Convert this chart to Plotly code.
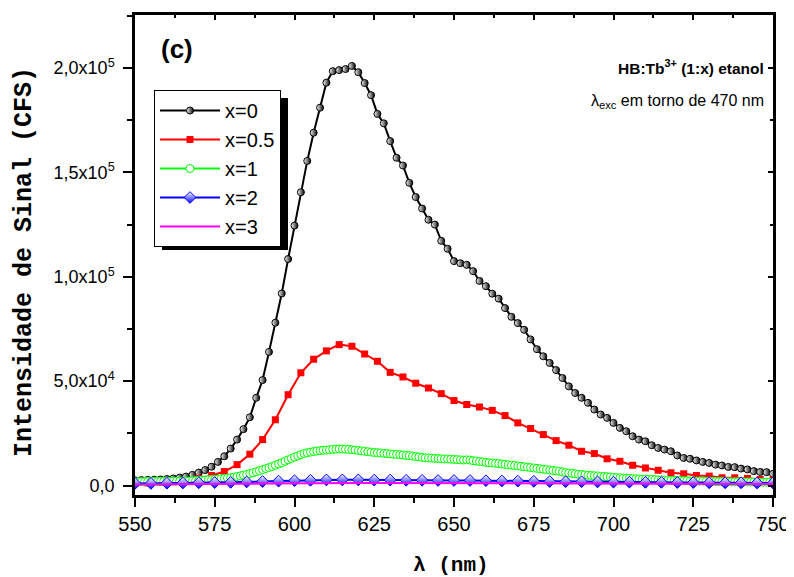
import plotly.graph_objects as go

# ---------------- data ----------------
x_black = list(range(550, 751, 2))
y_black = [2500, 2600, 2700, 2800, 2900, 3100, 3400, 3800, 4300, 5100,
           6200, 7400, 9000, 11300, 14000, 17700, 22000, 27000, 32700, 42000,
           50500, 64000, 78000, 92000, 108500, 124500, 140500, 155500, 169000, 181000,
           193000, 198500, 199000, 199500, 201000, 198000, 192800, 187000, 178000, 173500,
           165000, 157000, 153300, 145000, 138200, 132700, 127300, 125000, 117200, 113400,
           107500, 106500, 105700, 102700, 98000, 95500, 91900, 89500, 85000, 80800,
           77800, 74600, 70000, 65300, 61900, 58700, 55300, 51500, 47500, 44300,
           42000, 39600, 36400, 34000, 32400, 30000, 27600, 26000, 23600, 22000,
           21200, 19300, 18000, 17200, 16400, 14400, 13200, 12800, 12000, 11300,
           10800, 10000, 9600, 8900, 8800, 8100, 7700, 6900, 6500, 6400,
           5600]

x_red = list(range(550, 751, 4))
y_red = [1000, 1200, 1500, 1800, 2300, 3300, 4800, 6700, 10000, 15000,
         22000, 31500, 43500, 54000, 60500, 64500, 67500, 66700, 63000, 59500,
         54200, 52000, 49000, 46700, 44000, 40700, 38800, 37600, 36000, 33500,
         30000, 27300, 24400, 21500, 19300, 16400, 15300, 12800, 11600, 9700,
         8400, 7300, 6100, 5600, 4800, 4500, 3700, 3700, 3400, 2900,
         2600]

x_green = list(range(550, 751, 1))
y_green = [1800, 1800, 1850, 1850, 1900, 1900, 1950, 1950, 2000, 2000, 2000, 2050, 2050, 2100, 2100, 2100,
           2150, 2200, 2250, 2350, 2450, 2550, 2650, 2750, 2850, 2950,
           3100, 3250, 3400, 3600, 3800, 4050, 4300, 4600, 4950, 5300,
           5700, 6100, 6600, 7100, 7600, 8100, 8600, 9100, 9700, 10300,
           10900, 11600, 12300, 13000, 13600, 14200, 14800, 15300, 15700, 16000,
           16300, 16500, 16700, 16900, 17000, 17100, 17300, 17400, 17500, 17500,
           17400, 17300, 17100, 17000, 16800, 16600, 16400, 16200, 16000, 15800,
           15700, 15600, 15400, 15300, 15100, 15000, 14900, 14800, 14600, 14400,
           14300, 14100, 13900, 13700, 13500, 13300, 13200, 13100, 13000, 12900,
           12800, 12700, 12700, 12600, 12500, 12400, 12300, 12200, 12300, 12200,
           11900, 11700, 11500, 11300, 11100, 10900, 10800, 10600, 10500, 10300,
           10100, 9900, 9800, 9600, 9400, 9200, 9000, 8800, 8600, 8400,
           8200, 8000, 7800, 7600, 7400, 7200, 7000, 6800, 6500, 6200,
           6000, 5800, 5600, 5400, 5300, 5100, 4900, 4800, 4700, 4600,
           4400, 4300, 4200, 4100, 3900, 3800, 3700, 3600, 3500, 3400,
           3300, 3200, 3100, 3000, 3000, 2900, 2900, 2800, 2700, 2700,
           2600, 2600, 2500, 2500, 2400, 2400, 2300, 2300, 2200, 2200,
           2100, 2100, 2100, 2000, 2000, 2000, 1900, 1900, 1900, 1900,
           1800, 1800, 1800, 1800, 1800, 1700, 1700, 1700, 1700, 1700,
           1600, 1600, 1600, 1600, 1600]

x_blue = list(range(550, 751, 5))
y_blue = [1000, 1000, 1100, 1200, 1300, 1400, 1500, 1700, 1900, 2100,
          2300, 2500, 2700, 2700, 2700, 2600, 2600, 2500, 2500, 2400,
          2400, 2400, 2300, 2200, 2100, 2000, 1900, 1800, 1800, 1700,
          1600, 1600, 1500, 1500, 1400, 1400, 1300, 1300, 1300, 1200,
          1200]

x_magenta = list(range(550, 751, 5))
y_magenta = [500, 500, 550, 600, 650, 700, 750, 800, 900, 1000,
             1100, 1200, 1200, 1200, 1200, 1200, 1200, 1150, 1150, 1100,
             1100, 1100, 1050, 1050, 1000, 1000, 1000, 950, 950, 900,
             900, 900, 850, 850, 800, 800, 800, 750, 750, 700,
             700]

series_names = ["x=0", "x=0.5", "x=1", "x=2", "x=3"]

x_tickvals = [550, 575, 600, 625, 650, 675, 700, 725, 750]
y_tickvals = [0, 50000, 100000, 150000, 200000]
y_ticktext = ["0,0", "5,0x10<sup>4</sup>", "1,0x10<sup>5</sup>",
              "1,5x10<sup>5</sup>", "2,0x10<sup>5</sup>"]

# ---------------- figure ----------------
FONT = "Liberation Sans, Arial, sans-serif"
MONO = "Liberation Mono, Courier New, monospace"

W, H = 794, 577
OFF = 8  # default page margin of the HTML body
# plot-area edges as seen on screen
L, R, T, B = 135, 773, 15, 495
PW, PH = R - L, B - T


def px(xp):
    return (xp - L) / PW


def py(yp):
    return (B - yp) / PH


fig = go.Figure()

fig.add_trace(go.Scatter(
    x=x_black, y=y_black, name=series_names[0], mode="lines+markers",
    legendgroup="g0",
    line=dict(color="black", width=2),
    marker=dict(symbol="circle", size=7, color="white",
                gradient=dict(type="horizontal", color="black"),
                line=dict(color="black", width=1))))

fig.add_trace(go.Scatter(
    x=x_red, y=y_red, name=series_names[1], mode="lines+markers",
    legendgroup="g1",
    line=dict(color="#ff0000", width=2),
    marker=dict(symbol="square", size=7, color="#ff0000",
                line=dict(color="#ff0000", width=0))))

fig.add_trace(go.Scatter(
    x=x_green, y=y_green, name=series_names[2], mode="lines+markers",
    legendgroup="g2",
    line=dict(color="#00ff00", width=2),
    marker=dict(symbol="circle", size=8, color="white",
                line=dict(color="#00ff00", width=1))))

fig.add_trace(go.Scatter(
    x=x_blue, y=y_blue, name=series_names[3], mode="lines+markers",
    legendgroup="g3",
    line=dict(color="#0000ff", width=2),
    marker=dict(symbol="diamond", size=9, color="white",
                gradient=dict(type="vertical", color="#0000ff"),
                line=dict(color="#0000ff", width=1))))

fig.add_trace(go.Scatter(
    x=x_magenta, y=y_magenta, name=series_names[4], mode="lines",
    legendgroup="g4",
    line=dict(color="#ff00ff", width=2)))

# invisible trace on mirrored axes (to draw inward ticks on top/right)
fig.add_trace(go.Scatter(x=[550], y=[0], xaxis="x2", yaxis="y2",
                         mode="markers", marker=dict(opacity=0),
                         showlegend=False, hoverinfo="skip"))

XR = [550, 750]
YR = [-4550, 225400]

fig.update_layout(
    width=W, height=H,
    margin=dict(l=L - OFF, r=W - (R - OFF), t=T - OFF, b=H - (B - OFF),
                autoexpand=False),
    paper_bgcolor="white", plot_bgcolor="white",
    font=dict(family=FONT, size=19, color="black"),
    showlegend=True,
    legend=dict(x=px(154), y=py(90), xanchor="left", yanchor="top",
                bgcolor="white", bordercolor="black", borderwidth=1,
                font=dict(family=FONT, size=20, color="black"),
                tracegroupgap=0, itemwidth=60,
                traceorder="normal"),
    xaxis=dict(range=XR, tickvals=x_tickvals, ticks="outside", ticklen=9,
               tickwidth=2, tickcolor="black", automargin=False,
               showline=True, linecolor="black", linewidth=2.5,
               showgrid=False, zeroline=False,
               minor=dict(dtick=12.5, tick0=550, ticks="outside", ticklen=5,
                          tickwidth=2, tickcolor="black", showgrid=False),
               tickfont=dict(family=FONT, size=20)),
    yaxis=dict(range=YR, tickvals=y_tickvals, ticktext=y_ticktext,
               ticks="outside", ticklen=9, tickwidth=2, tickcolor="black",
               showline=True, linecolor="black", linewidth=2.5,
               showgrid=False, zeroline=False, automargin=False,
               ticklabelstandoff=5,
               minor=dict(dtick=25000, tick0=0, ticks="outside", ticklen=5,
                          tickwidth=2, tickcolor="black", showgrid=False),
               tickfont=dict(family=FONT, size=18)),
    xaxis2=dict(range=XR, overlaying="x", side="top", tickvals=x_tickvals,
                ticks="inside", ticklen=5, tickwidth=2, tickcolor="black",
                showticklabels=False, showline=True, linecolor="black",
                linewidth=2.5, showgrid=False, zeroline=False, automargin=False,
                minor=dict(dtick=12.5, tick0=550, ticks="inside", ticklen=3,
                           tickwidth=1.5, tickcolor="black", showgrid=False)),
    yaxis2=dict(range=YR, overlaying="y", side="right", tickvals=y_tickvals,
                ticks="inside", ticklen=5, tickwidth=2, tickcolor="black",
                showticklabels=False, showline=True, linecolor="black",
                linewidth=2.5, showgrid=False, zeroline=False, automargin=False,
                minor=dict(dtick=25000, tick0=0, ticks="inside", ticklen=3,
                           tickwidth=1.5, tickcolor="black", showgrid=False)),
)

# legend shadow
fig.add_shape(type="rect", xref="paper", yref="paper",
              x0=px(162), x1=px(288), y0=py(250), y1=py(98),
              fillcolor="black", line=dict(width=0), layer="above")

# axis titles
fig.add_annotation(x=px(451), y=py(565), xref="paper", yref="paper",
                   xanchor="center", yanchor="middle", showarrow=False,
                   text="<b>λ (nm)</b>", font=dict(family=MONO, size=21))
fig.add_annotation(x=px(24), y=py(262), xref="paper", yref="paper",
                   xanchor="center", yanchor="middle", showarrow=False,
                   textangle=-90,
                   text="<b>Intensidade de Sinal (CFS)</b>",
                   font=dict(family=MONO, size=25))

# in-plot texts
fig.add_annotation(x=px(159), y=py(49), xref="paper", yref="paper",
                   xanchor="left", yanchor="middle", showarrow=False,
                   text="<b>(c)</b>", font=dict(family=FONT, size=26))
fig.add_annotation(x=px(766), y=py(67), xref="paper", yref="paper",
                   xanchor="right", yanchor="middle", showarrow=False,
                   text="<b>HB:Tb<sup>3+</sup> (1:x) etanol</b>",
                   font=dict(family=FONT, size=15.5))
fig.add_annotation(x=px(766), y=py(101), xref="paper", yref="paper",
                   xanchor="right", yanchor="middle", showarrow=False,
                   text="λ<sub>exc</sub> em torno de 470 nm",
                   font=dict(family=FONT, size=16))

fig.write_html("out.html")
